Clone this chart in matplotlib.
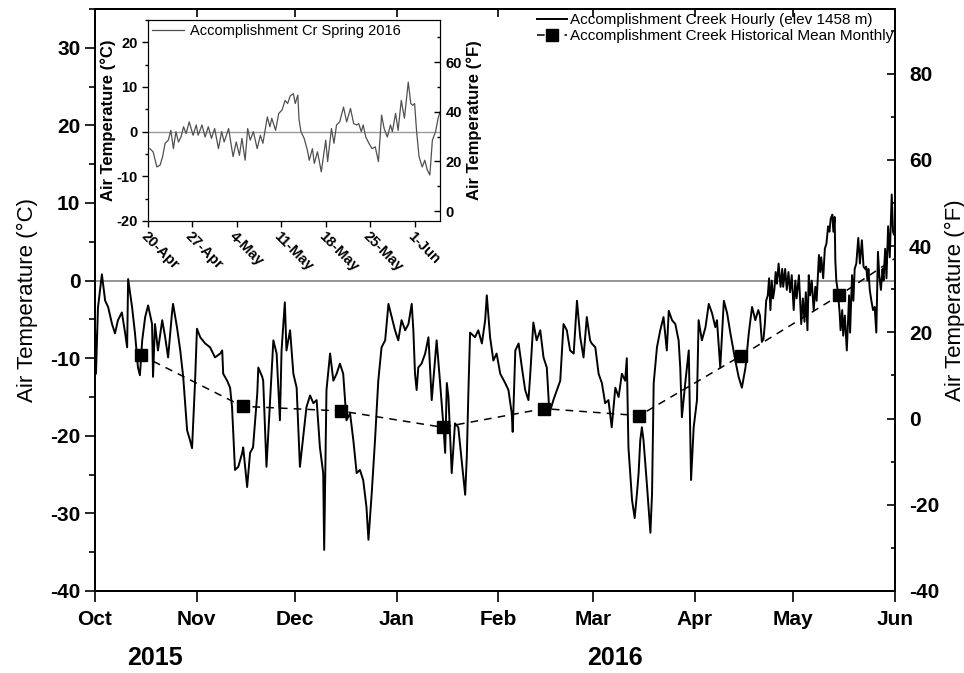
import numpy as np
import matplotlib.pyplot as plt
from matplotlib.ticker import MultipleLocator

plt.rcParams['font.family'] = ['Liberation Sans', 'DejaVu Sans']
plt.rcParams['axes.unicode_minus'] = False

# Accomplishment Creek hourly record, days since 1 Oct 2015
hourly_day = [
    0.0, 0.3, 0.9, 2.1, 3.1, 4.0, 5.2, 6.1, 7.0, 8.2, 9.2, 9.8, 10.1, 11.3, 12.2,
    13.1, 13.7, 14.4, 15.3, 16.2, 17.4, 17.7, 18.3, 19.2, 20.5, 21.4, 22.3, 23.5,
    23.8, 25.0, 26.0, 26.9, 28.1, 29.0, 29.6, 30.5, 31.1, 32.1, 33.6, 35.1, 36.6,
    38.2, 38.8, 39.1, 40.3, 41.2, 41.8, 42.7, 43.7, 44.9, 45.2, 46.4, 47.3, 48.2,
    49.5, 49.8, 51.0, 51.3, 52.3, 53.3, 54.4, 55.4, 56.4, 56.9, 57.9, 58.4, 59.5,
    60.5, 61.5, 62.5, 63.5, 64.5, 65.6, 66.6, 67.6, 68.6, 69.6, 69.9, 70.6, 71.7,
    72.7, 73.7, 74.7, 75.7, 76.7, 77.8, 78.8, 79.8, 80.8, 81.8, 82.8, 83.4, 84.4,
    85.4, 86.4, 87.4, 88.5, 89.5, 90.5, 91.5, 92.5, 93.5, 94.6, 95.6, 96.6, 97.1,
    97.6, 98.1, 98.6, 99.6, 100.7, 101.7, 102.7, 104.2, 105.2, 106.3, 106.8, 107.3,
    107.8, 108.8, 109.8, 110.8, 111.8, 112.9, 113.4, 113.9, 114.4, 115.9, 116.9,
    118.0, 119.0, 119.5, 120.5, 121.5, 122.5, 123.6, 125.1, 126.1, 127.1, 127.4,
    128.2, 129.2, 130.2, 131.2, 132.2, 132.7, 133.7, 134.7, 135.8, 136.8, 137.8,
    138.6, 139.8, 140.9, 141.9, 142.9, 143.9, 144.9, 146.0, 147.0, 148.0, 149.0,
    150.0, 151.0, 151.5, 152.6, 153.6, 154.6, 155.6, 156.6, 157.6, 158.7, 159.7,
    160.7, 161.7, 162.2, 162.7, 163.8, 164.6, 165.3, 165.8, 166.3, 166.8, 167.3,
    168.3, 169.4, 169.9, 170.4, 171.4, 172.4, 173.4, 174.4, 175.0, 176.0, 177.0,
    178.0, 178.5, 179.0, 180.1, 181.1, 181.8, 182.6, 183.6, 184.1, 185.1, 186.2,
    187.2, 188.2, 189.2, 189.7, 190.7, 191.8, 192.8, 193.8, 195.3, 196.3, 197.3,
    198.4, 199.4, 200.4, 201.4,
    202.3, 202.8, 203.4, 203.9, 204.3, 204.7, 205.2, 205.6, 206.0, 206.4, 206.8,
    207.2, 207.6, 208.0, 208.5, 209.1, 209.6, 209.9, 210.5, 211.0, 211.5, 212.0,
    212.5, 213.1, 213.6, 214.0, 214.7, 215.4, 215.9, 216.4, 216.8, 217.3, 217.7,
    218.1, 218.6, 219.2, 219.7, 220.1, 220.8, 221.2, 221.5, 222.1, 222.6, 223.1,
    223.6, 224.0, 224.4, 224.9, 225.2, 225.6, 225.8, 226.1, 226.6, 227.1, 227.4,
    227.9, 228.2, 228.7, 229.3, 230.0, 230.3, 230.9, 231.3, 231.7, 232.2, 232.8,
    233.3, 233.9, 234.4, 234.9, 235.2, 235.6, 235.9, 236.3, 236.8, 237.3, 237.8,
    238.3, 238.8, 239.2, 239.7, 240.2, 240.5, 241.0, 241.4, 241.9, 242.4, 243.0,
    243.4, 243.7, 244.0, 244.3, 244.7, 245.2, 245.6, 246.0, 246.4, 246.8, 247.3,
    247.7, 248.0,
]
hourly_temp = [
    -6.0, -12.0, -3.5, 0.8, -2.6, -3.4, -5.6, -6.8, -5.1, -4.1, -6.8, -8.6, 0.2, -3.4, -6.8,
    -11.2, -12.2, -7.7, -4.7, -3.2, -5.6, -12.4, -5.6, -9.0, -5.1, -7.3, -9.9, -4.1,
    -3.0, -6.0, -9.0, -12.4, -19.3, -20.6, -21.6, -13.2, -6.2, -7.3, -8.1, -8.6, -9.9,
    -9.4, -9.0, -12.0, -12.9, -13.8, -16.3, -24.4, -24.0, -22.2, -21.5, -26.6, -22.2, -21.5,
    -14.5, -11.2, -12.4, -12.9, -24.0, -16.3, -7.7, -9.4, -18.0, -9.0, -2.8, -9.0, -6.4,
    -12.0, -13.8, -24.0, -20.2, -16.3, -14.8, -15.8, -15.4, -21.5, -24.8, -34.7, -14.1, -9.4,
    -12.9, -12.0, -10.7, -12.0, -18.0, -17.1, -20.6, -24.8, -24.4, -25.7, -29.2, -33.4, -27.4,
    -20.6, -12.9, -8.6, -7.7, -3.0, -4.7, -6.4, -7.7, -5.1, -6.4, -5.6, -3.0, -6.4,
    -12.0, -14.1, -11.2, -10.7, -9.4, -7.3, -15.4, -7.7, -12.9, -18.9, -22.2, -13.2,
    -15.0, -24.8, -18.4, -18.9, -23.1, -27.6, -22.7, -14.1, -6.7, -7.3, -6.4,
    -8.1, -5.1, -1.9, -7.3, -10.3, -9.4, -12.0, -13.2, -14.1, -17.1, -19.5,
    -9.0, -8.1, -11.2, -14.1, -15.4, -12.4, -5.4, -7.7, -6.4, -9.9, -11.2,
    -17.1, -15.4, -14.1, -12.9, -5.6, -6.4, -9.0, -9.4, -2.6, -7.3, -9.9,
    -4.7, -7.7, -8.1, -8.6, -12.0, -13.2, -15.8, -15.4, -18.9, -13.8, -15.0,
    -12.0, -12.9, -10.0, -21.5, -28.3, -30.6, -27.4, -24.8, -20.6, -18.9, -20.6,
    -26.1, -32.5, -27.4, -13.2, -8.6, -6.4, -4.7, -9.0, -3.9, -5.1, -5.6,
    -7.7, -11.2, -17.6, -12.9, -9.0, -25.7, -18.9, -15.4, -5.1, -7.7, -6.0,
    -3.0, -4.2, -6.0, -5.1, -11.2, -2.6, -4.2, -6.8, -10.3, -12.4, -13.8,
    -11.2, -6.8, -3.4, -5.1,
    -3.8, -4.5, -7.9, -7.5, -5.6, -2.6, -1.9, 0.3, -3.8, 0.0, -2.3,
    -1.2, 1.1, -0.4, 2.2, -0.8, 1.5, -0.8, 1.5, -1.2, 1.1, -1.5,
    0.7, -3.8, 0.0, -2.3, 0.7, -5.6, -2.3, -5.3, -1.5, -6.4, 0.7,
    -1.9, 0.0, -3.8, -0.8, -2.6, 3.3, 1.1, 3.0, 0.3, 4.1, 4.8,
    7.0, 6.3, 8.0, 8.5, 6.3, 8.2, 2.6, 0.0, -1.5, -4.1, -6.4,
    -3.8, -7.1, -4.5, -9.0, -1.9, -6.7, 0.7, -2.6, 1.5, 2.2, 5.5,
    2.2, 5.2, 1.8, 1.5, 1.8, 0.0, 1.5, -1.2, -2.6, -3.8, -3.4,
    -6.7, 3.7, 0.7, -1.2, 1.5, 0.0, 4.1, 0.3, 7.0, 3.0, 11.1,
    6.3, 5.9, 6.3, 0.3, -5.6, -7.9, -6.4, -8.6, -9.7, -1.9, 0.0,
    3.0, 4.4,
]

# historical mean monthly air temperature, plotted mid-month
mean_dates = ['2015-10-15', '2015-11-15', '2015-12-15', '2016-01-15', '2016-02-15',
              '2016-03-15', '2016-04-15', '2016-05-15', '2016-06-15']
mean_temp = [-9.6, -16.2, -16.8, -18.9, -16.5, -17.4, -9.7, -1.9, 6.8]

month_ticks = ['2015-10-01', '2015-11-01', '2015-12-01', '2016-01-01', '2016-02-01',
               '2016-03-01', '2016-04-01', '2016-05-01', '2016-06-01']
month_labels = ['Oct', 'Nov', 'Dec', 'Jan', 'Feb', 'Mar', 'Apr', 'May', 'Jun']

inset_ticks = ['2016-04-20', '2016-04-27', '2016-05-04', '2016-05-11', '2016-05-18',
               '2016-05-25', '2016-06-01']
inset_labels = ['20-Apr', '27-Apr', '4-May', '11-May', '18-May', '25-May', '1-Jun']


def c_to_f(c):
    return c * 9.0 / 5.0 + 32.0


start = np.datetime64('2015-10-01T00:00')
times = start + np.round(np.array(hourly_day) * 1440).astype('timedelta64[m]')
temps = np.array(hourly_temp)
mean_times = np.array(mean_dates, dtype='datetime64[D]')
month_pos = np.array(month_ticks, dtype='datetime64[D]')
inset_pos = np.array(inset_ticks, dtype='datetime64[D]')

fig = plt.figure(figsize=(9.64, 6.73), dpi=100)

# ---- main panel ----
ax = fig.add_axes([95 / 964, 1 - 591 / 673, 800 / 964, 582 / 673])
ax.axhline(0, color='#8c8c8c', lw=1.3, zorder=1)
ax.plot(times, temps, color='black', lw=1.4,
        label='Accomplishment Creek Hourly (elev 1458 m)')
ax.plot(mean_times, mean_temp, color='black', lw=1.1, ls=(0, (5, 4)),
        marker='s', ms=8, label='Accomplishment Creek Historical Mean Monthly')
ax.set_xlim(month_pos[0], month_pos[-1])
ax.set_ylim(-40, 35)

ax.set_xticks(month_pos)
ax.set_xticklabels(month_labels, fontsize=15, fontweight='bold')
ax.yaxis.set_major_locator(MultipleLocator(10))
ax.yaxis.set_minor_locator(MultipleLocator(5))
ax.tick_params(axis='x', direction='out', length=8, width=1.2, pad=6)
ax.tick_params(axis='y', which='major', direction='out', length=7, width=1.2, labelsize=15)
ax.tick_params(axis='y', which='minor', direction='out', length=4, width=1.2)
for lab in ax.get_yticklabels():
    lab.set_fontweight('bold')
ax.set_ylabel('Air Temperature (°C)', fontsize=16, labelpad=9)
for s in ax.spines.values():
    s.set_linewidth(1.3)

top = ax.secondary_xaxis('top')
top.set_xticks(month_pos)
top.tick_params(direction='in', length=6, width=1.2, labeltop=False)
top.spines['top'].set_linewidth(1.3)

axr = ax.twinx()
axr.set_ylim(c_to_f(-40), c_to_f(35))
axr.yaxis.set_major_locator(MultipleLocator(20))
axr.yaxis.set_minor_locator(MultipleLocator(10))
axr.tick_params(axis='y', which='major', direction='in', length=6, width=1.2,
                labelsize=15, pad=10)
axr.tick_params(axis='y', which='minor', direction='in', length=3, width=1.2)
for lab in axr.get_yticklabels():
    lab.set_fontweight('bold')
axr.set_ylabel('Air Temperature (°F)', fontsize=16, labelpad=4)
for s in axr.spines.values():
    s.set_linewidth(1.3)

ax.text(0.075, -0.115, '2015', transform=ax.transAxes, ha='center', va='center',
        fontsize=18, fontweight='bold')
ax.text(0.65, -0.115, '2016', transform=ax.transAxes, ha='center', va='center',
        fontsize=18, fontweight='bold')

axr.legend(*ax.get_legend_handles_labels(), loc='upper right',
           bbox_to_anchor=(1.0, 0.995), frameon=False, fontsize=11,
           handlelength=2.0, handletextpad=0.2, labelspacing=0.1,
           borderpad=0.1, borderaxespad=0.0)

# ---- spring 2016 inset ----
axi = fig.add_axes([148 / 964, 1 - 221 / 673, 292 / 964, 201 / 673])
axi.set_facecolor('white')
axi.axhline(0, color='#9a9a9a', lw=1.0, zorder=1)
sel = times >= inset_pos[0]
axi.plot(times[sel], temps[sel], color='#505050', lw=0.9,
         label='Accomplishment Cr Spring 2016')
axi.set_xlim(inset_pos[0], np.datetime64('2016-06-05'))
axi.set_ylim(-20, 25)
axi.set_xticks(inset_pos)
axi.set_xticklabels(inset_labels, rotation=-45, ha='left', va='top',
                    rotation_mode='anchor', fontsize=10.5, fontweight='bold')
axi.yaxis.set_major_locator(MultipleLocator(10))
axi.yaxis.set_minor_locator(MultipleLocator(5))
axi.tick_params(axis='x', direction='out', length=4, width=1.0, pad=2)
axi.tick_params(axis='y', which='major', direction='out', length=4, width=1.0, labelsize=10.5)
axi.tick_params(axis='y', which='minor', direction='out', length=2.5, width=1.0)
for lab in axi.get_yticklabels():
    lab.set_fontweight('bold')
axi.set_ylabel('Air Temperature (°C)', fontsize=12, fontweight='bold', labelpad=0)
axi.legend(loc='upper left', frameon=False, fontsize=10.5, handlelength=2.2,
           handletextpad=0.4, borderpad=0.1, borderaxespad=0.2)

axir = axi.twinx()
axir.set_ylim(c_to_f(-20), c_to_f(25))
axir.yaxis.set_major_locator(MultipleLocator(20))
axir.yaxis.set_minor_locator(MultipleLocator(10))
axir.tick_params(axis='y', which='major', direction='in', length=4, width=1.0,
                 labelsize=10.5, pad=4)
axir.tick_params(axis='y', which='minor', direction='in', length=2.5, width=1.0)
for lab in axir.get_yticklabels():
    lab.set_fontweight('bold')
axir.set_ylabel('Air Temperature (°F)', fontsize=12, fontweight='bold', labelpad=3)

fig.savefig('out.png', dpi=100)
